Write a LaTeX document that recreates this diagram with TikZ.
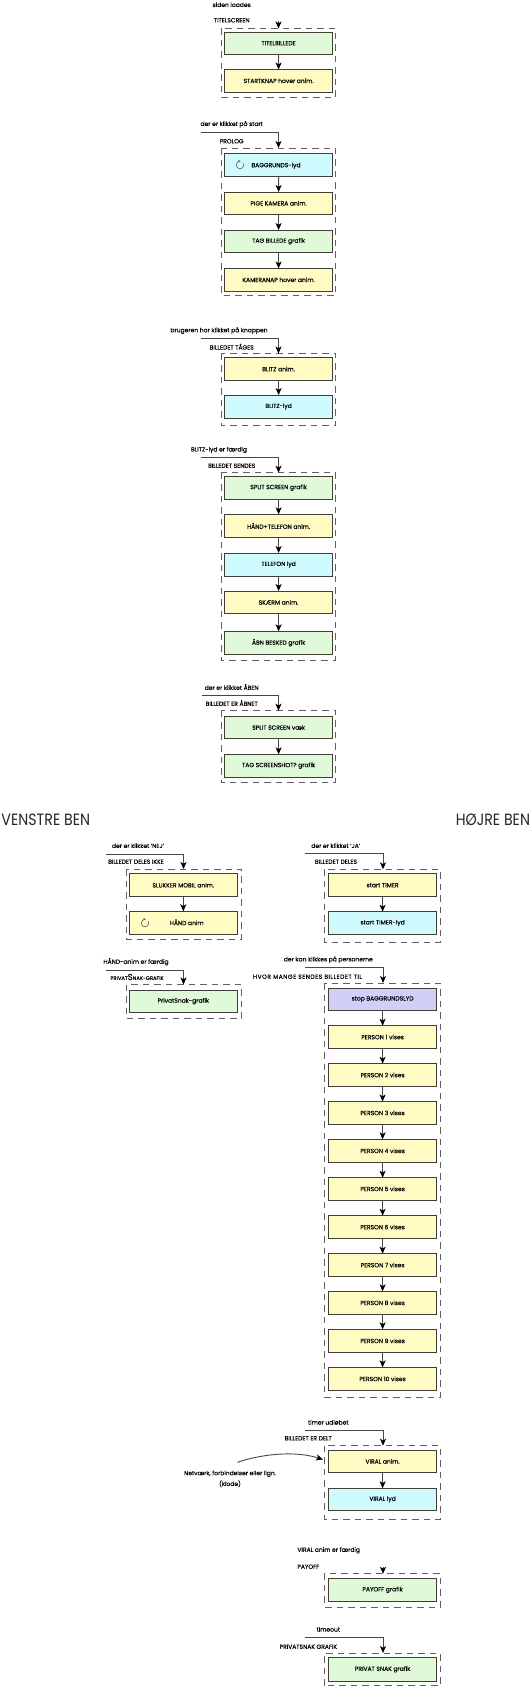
\documentclass[tikz,border=0pt]{standalone}
\usepackage{fontspec}
\setmainfont{Poppins}[FakeBold=0.1]
\newfontfamily\titlefont{Poppins}
\usetikzlibrary{arrows.meta}
\definecolor{cYel}{HTML}{FFFBC2}
\definecolor{cGrn}{HTML}{DFF9D9}
\definecolor{cBlu}{HTML}{CFFBFF}
\definecolor{cLav}{HTML}{CFCFFA}
\definecolor{cEdge}{HTML}{3F3F38}
\tikzset{
 every node/.style={font=\fontsize{6.0}{7}\selectfont,text=black,inner sep=0pt,outer sep=0pt},
 wire/.style={line width=0.9pt,draw=black!72,-{Stealth[length=7pt,width=6pt,inset=1.8pt,color=black]}},
 frame/.style={draw=black!62,line width=0.8pt,dash pattern=on 6.5pt off 5pt},
 bigtitle/.style={font=\titlefont\fontsize{14.2}{16}\selectfont,text=black!85},
 spin/.style={line width=0.55pt,draw=black!65,-{Stealth[length=2.4pt,width=2.6pt]}},
}
% \bx name x1 x2 y1 y2 colour text
\newcommand{\bx}[7]{%
 \path[draw=cEdge,fill=#6,line width=1pt] (#2,#4) rectangle (#3,#5);
 \node (#1) at ({(#2+#3)/2},{(#4+#5)/2}) {#7};
 \coordinate (#1t) at ({(#2+#3)/2},#4);
 \coordinate (#1b) at ({(#2+#3)/2},#5);
}
\newcommand{\lnk}[2]{\draw[wire] (#1b) -- (#2t);}
\newcommand{\fr}[4]{\draw[frame] (#1,#3) rectangle (#2,#4);}
\begin{document}
\begin{tikzpicture}[x=1pt,y=-1pt]
\useasboundingbox (0,0) rectangle (531,1687);
\fill[white] (0,0) rectangle (531,1687);
% TITELSCREEN
\node (t1) at (231.7,4.7) {siden loades};
\node (t2) at (231.7,20.3) {TITELSCREEN};
\fr{221}{335.5}{28}{97}
\bx{a}{224.5}{332.7}{32}{54.3}{cGrn}{TITELBILLEDE}
\bx{b}{224.5}{332.7}{69.5}{92}{cYel}{STARTKNAP hover anim.}
\lnk{a}{b}
\coordinate (w0) at (278.5,20.5); \coordinate (w0e) at (278.5,28.5);
\draw[wire] (w0) -- (w0e);
% PROLOG
\node (t3) at (231.7,124.3) {der er klikket på start};
\node (t4) at (231.7,141.3) {PROLOG};
\fr{221}{335.5}{148}{295}
\path[draw=cEdge,fill=cBlu,line width=1pt] (224.5,153.5) rectangle (332.7,176);
\coordinate (ct) at (278.6,153.5); \coordinate (cb) at (278.6,176);
\node (c) at (276,165.8) {BAGGRUNDS-lyd};
\bx{d}{224.5}{332.7}{192}{214.5}{cYel}{PIGE KAMERA anim.}
\bx{e}{224.5}{332.7}{230}{252.5}{cGrn}{TAG BILLEDE grafik}
\bx{f}{224.5}{332.7}{268.5}{291}{cYel}{KAMERANAP hover anim.}
\lnk{c}{d}\lnk{d}{e}\lnk{e}{f}
\coordinate (w1s) at (200.7,132.7); \coordinate (w1e) at (278.5,148);
\draw[wire] (w1s) -| (w1e);
\draw[spin] (243,163) arc[start angle=35,end angle=-280,radius=3.7pt];
% BILLEDET TAGES
\node (t5) at (219,330.6) {brugeren har klikket på knappen};
\node (t6) at (231.7,346.7) {BILLEDET TÅGES};
\fr{221}{335.5}{353.5}{425}
\bx{g}{224.5}{332.7}{357.7}{380.3}{cYel}{BLITZ anim.}
\bx{h}{224.5}{332.7}{395}{418}{cBlu}{BLITZ-lyd}
\lnk{g}{h}
\coordinate (w2s) at (200.7,338); \coordinate (w2e) at (278.5,353.5);
\draw[wire] (w2s) -| (w2e);
% BILLEDET SENDES
\node (t7) at (219,450) {BLITZ-lyd er færdig};
\node (t8) at (231.7,465.7) {BILLEDET SENDES};
\fr{221}{335.5}{472.7}{660}
\bx{i}{224.5}{332.7}{476.3}{499}{cGrn}{SPLIT SCREEN grafik}
\bx{j}{224.5}{332.7}{514.3}{537.5}{cYel}{HÅND+TELEFON anim.}
\bx{k}{224.5}{332.7}{553}{576}{cBlu}{TELEFON lyd}
\bx{l}{224.5}{332.7}{591}{613.7}{cYel}{SKÆRM anim.}
\bx{m}{224.5}{332.7}{631.3}{654}{cGrn}{ÅBN BESKED grafik}
\lnk{i}{j}\lnk{j}{k}\lnk{k}{l}\lnk{l}{m}
\coordinate (w3s) at (200.7,457.3); \coordinate (w3e) at (278.5,472.7);
\draw[wire] (w3s) -| (w3e);
% ABNET
\node (t9) at (231.7,687) {der er klikket ÅBEN};
\node (t10) at (231.7,703) {BILLEDET ER ÅBNET};
\fr{221}{335.5}{710.7}{782.3}
\bx{n}{224.5}{332.7}{716.3}{738.7}{cGrn}{SPLIT SCREEN væk}
\bx{o}{224.5}{332.7}{754.3}{777}{cGrn}{TAG SCREENSHOT? grafik}
\lnk{n}{o}
\coordinate (w4s) at (201.7,695.7); \coordinate (w4e) at (278.5,710.7);
\draw[wire] (w4s) -| (w4e);
% titles
\node[bigtitle,anchor=west] (vb) at (1.5,820) {\scalebox{1}[1.15]{VENSTRE BEN}};
\node[bigtitle,anchor=east] (hb) at (530,820) {\scalebox{1}[1.15]{HØJRE BEN}};
% LEFT
\node (t11) at (138,845.7) {der er klikket 'NEJ'};
\node (t12) at (136,861.7) {BILLEDET DELES IKKE};
\fr{126}{241.3}{869}{939}
\bx{p}{129.3}{237.3}{873.7}{896.7}{cYel}{SLUKKER MOBIL anim.}
\path[draw=cEdge,fill=cYel,line width=1pt] (129.3,911.3) rectangle (237.3,934.3);
\coordinate (qt) at (183.3,911.3);
\node (q) at (186.7,922.3) {HÅND anim};
\draw[wire] (pb) -- (qt);
\coordinate (w5s) at (106,854); \coordinate (w5e) at (183.5,869);
\draw[wire] (w5s) -| (w5e);
\draw[spin] (148,921) arc[start angle=35,end angle=-280,radius=3.7pt];
\node (t13) at (136,961.7) {HÅND-anim er færdig};
\node[font=\fontsize{5.2}{7}\selectfont] (t14) at (137,977) {PRIVAT{\fontsize{8.5}{8}\selectfont S}NAK-GRAFIK};
\fr{126}{241.5}{984.5}{1018.5}
\bx{r}{129.3}{237.3}{990}{1012.3}{cGrn}{PrivatSnak-grafik}
\coordinate (w6s) at (106,970); \coordinate (w6e) at (183.5,984.5);
\draw[wire] (w6s) -| (w6e);
% RIGHT
\node (t15) at (335.7,845.7) {der er klikket 'JA'};
\node (t16) at (336,861.7) {BILLEDET DELES};
\fr{324.5}{440.3}{869.3}{942.7}
\bx{s}{328.7}{436.5}{873.7}{896.7}{cYel}{start TIMER}
\bx{u}{328.7}{436.5}{911.7}{934.3}{cBlu}{start TIMER-lyd}
\lnk{s}{u}
\coordinate (w7s) at (305,853.3); \coordinate (w7e) at (383,869.3);
\draw[wire] (w7s) -| (w7e);
\node (t17) at (328.3,959.7) {der kan klikkes på personerne};
\node (t18) at (307.5,976.7) {\addfontfeature{LetterSpace=8}HVOR MANGE SENDES BILLEDET TIL};
\fr{324.5}{440.3}{983}{1397.3}
\coordinate (w8s) at (305,967.7); \coordinate (w8e) at (383,983);
\draw[wire] (w8s) -| (w8e);
\bx{P0}{328.7}{436.5}{988.3}{1010}{cLav}{stop BAGGRUNDSLYD}
\bx{P1}{328.7}{436.5}{1025.7}{1048.3}{cYel}{PERSON 1 vises}
\bx{P2}{328.7}{436.5}{1063.7}{1086.3}{cYel}{PERSON 2 vises}
\bx{P3}{328.7}{436.5}{1101.5}{1124.3}{cYel}{PERSON 3 vises}
\bx{P4}{328.7}{436.5}{1139.3}{1162.3}{cYel}{PERSON 4 vises}
\bx{P5}{328.7}{436.5}{1177.7}{1200}{cYel}{PERSON 5 vises}
\bx{P6}{328.7}{436.5}{1215.7}{1238.3}{cYel}{PERSON 6 vises}
\bx{P7}{328.7}{436.5}{1253.7}{1276.3}{cYel}{PERSON 7 vises}
\bx{P8}{328.7}{436.5}{1291.3}{1314.3}{cYel}{PERSON 8 vises}
\bx{P9}{328.7}{436.5}{1329.3}{1352.3}{cYel}{PERSON 9 vises}
\bx{P10}{328.7}{436.5}{1367.3}{1390.3}{cYel}{PERSON 10 vises}
\lnk{P0}{P1}\lnk{P1}{P2}\lnk{P2}{P3}\lnk{P3}{P4}\lnk{P4}{P5}\lnk{P5}{P6}\lnk{P6}{P7}\lnk{P7}{P8}\lnk{P8}{P9}\lnk{P9}{P10}
% VIRAL
\node (t19) at (328.3,1422.3) {timer udløbet};
\node (t20) at (308.3,1438.3) {BILLEDET ER DELT};
\fr{324.5}{440.3}{1445.7}{1519}
\bx{v}{328.7}{436.5}{1450}{1472.7}{cYel}{VIRAL anim.}
\bx{w}{328.7}{436.5}{1488.3}{1510.3}{cBlu}{VIRAL lyd}
\lnk{v}{w}
\coordinate (w9s) at (305,1430.7); \coordinate (w9e) at (383,1445.7);
\draw[wire] (w9s) -| (w9e);
\node (t21) at (230,1473.7) {Netværk, forbindelser eller lign.};
\node (t22) at (230,1483.7) {(klode)};
\coordinate (cs) at (237.3,1462.3); \coordinate (ce) at (323,1459.5);
\draw[wire] (cs) .. controls (262,1454) and (295,1450.5) .. (ce);
% PAYOFF
\node (t23) at (328.7,1550.3) {VIRAL anim er færdig};
\node (t24) at (308.3,1566.7) {PAYOFF};
\fr{324.5}{440.3}{1573.3}{1607}
\bx{x}{328.7}{436.5}{1578.7}{1601}{cGrn}{PAYOFF grafik}
\coordinate (w10s) at (383,1566.5); \coordinate (w10e) at (383,1573.8);
\draw[wire] (w10s) -- (w10e);
% PRIVAT SNAK
\node (t25) at (328.3,1629.3) {timeout};
\node (t26) at (308.3,1646.7) {PRIVATSNAK GRAFIK};
\draw[frame] (324.5,1685.7) -- (324.5,1653) -- (440.3,1653) -- (440.3,1685.7) -- cycle;
\bx{y}{328.7}{436.5}{1657.7}{1681}{cGrn}{PRIVAT SNAK grafik}
\coordinate (w11s) at (305,1637.7); \coordinate (w11e) at (383,1653);
\draw[wire] (w11s) -| (w11e);
\end{tikzpicture}
\end{document}
